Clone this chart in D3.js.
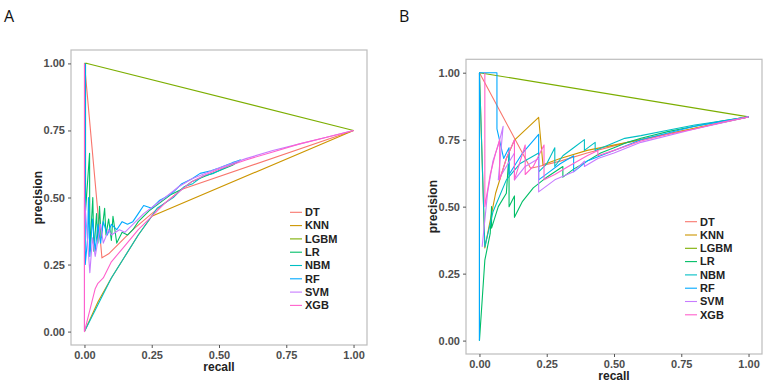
<!DOCTYPE html>
<html>
<head>
<meta charset="utf-8">
<script src="https://d3js.org/d3.v7.min.js"></script>
<style>
    body { margin: 0; background: white; }
    text { font-family: "Liberation Sans", Arial, sans-serif; }
</style>
</head>
<body>
<div id="chart"></div>
<script>
const models = ["DT", "KNN", "LGBM", "LR", "NBM", "RF", "SVM", "XGB"]
const modelColors = ["#F8766D", "#CD9600", "#7CAE00", "#00BE67", "#00BFC4", "#00A9FF", "#C77CFF", "#FF61CC"]
const tickValues = [0, 0.25, 0.5, 0.75, 1]
const panelLabels = ["A", "B"]

// panel A curves, [recall, precision]
const curveA_DT = [[0,1],[0.065,0.275],[0.09,0.29],[0.13,0.33],[0.18,0.38],[0.25,0.44],[0.3,0.48],[0.36,0.53],[1,0.75]]
const curveA_KNN = [[0,0],[0.05,0.11],[0.1,0.2],[0.15,0.28],[0.2,0.36],[0.25,0.43],[1,0.75]]
const curveA_LGBM = [[0,1],[0.01,1],[1,0.75]]
const curveA_LR = [[0.004,1],[0.004,0.45],[0.019,0.665],[0.02,0.3],[0.031,0.5],[0.035,0.3],[0.045,0.44],[0.05,0.33],[0.056,0.467],[0.062,0.35],[0.075,0.46],[0.08,0.36],[0.09,0.42],[0.1,0.34],[0.106,0.43],[0.12,0.33],[0.14,0.37],[0.16,0.36],[0.18,0.38],[0.2,0.41],[0.24,0.45],[0.28,0.48],[0.32,0.51],[0.36,0.53],[0.4,0.56],[0.45,0.58],[0.5,0.6],[0.55,0.62],[0.58,0.64]]
const curveA_NBM = [[0,0],[0.05,0.1],[0.1,0.2],[0.15,0.28],[0.2,0.36],[0.25,0.43],[0.27,0.46],[0.3,0.48],[0.33,0.5],[0.37,0.54],[0.4,0.55],[0.44,0.58],[0.48,0.59],[0.52,0.61],[0.58,0.64]]
const curveA_RF = [[0.003,1],[0.003,0.25],[0.012,0.35],[0.015,0.5],[0.02,0.28],[0.03,0.42],[0.04,0.3],[0.05,0.4],[0.06,0.33],[0.07,0.41],[0.085,0.36],[0.1,0.4],[0.12,0.38],[0.14,0.41],[0.16,0.4],[0.18,0.41],[0.2,0.44],[0.22,0.47],[0.25,0.46],[0.28,0.49],[0.3,0.5],[0.33,0.52],[0.36,0.55],[0.4,0.57],[0.43,0.59],[0.47,0.6],[0.5,0.61],[0.55,0.63],[0.58,0.64]]
const curveA_SVM = [[0,0],[0,0.5],[0.02,0.22],[0.03,0.35],[0.04,0.28],[0.06,0.4],[0.07,0.33],[0.09,0.38],[0.1,0.36],[0.13,0.38],[0.15,0.37],[0.18,0.4],[0.22,0.44],[0.26,0.47],[0.3,0.5],[0.35,0.54],[0.4,0.57],[0.45,0.59],[0.5,0.61],[0.6,0.645],[0.7,0.675],[0.8,0.7],[0.9,0.725],[1,0.75]]
const curveA_XGB = [[0,1],[0,0],[0.02,0.08],[0.04,0.16],[0.05,0.18],[0.07,0.2],[0.1,0.26],[0.15,0.32],[0.2,0.38],[0.25,0.43],[0.3,0.48],[0.35,0.52],[0.4,0.56],[0.45,0.585],[0.5,0.605],[0.6,0.64],[0.7,0.67],[0.8,0.7],[0.9,0.725],[1,0.75]]

// panel B curves
const curveB_DT = [[0,1],[0.19,0.643],[0.22,0.65],[0.3,0.67],[0.4,0.7],[0.55,0.74],[0.7,0.77],[1,0.835]]
const curveB_KNN = [[0,1],[0.02,0.346],[0.06,0.55],[0.1,0.68],[0.13,0.748],[0.22,0.833],[0.236,0.656],[0.3,0.68],[0.4,0.71],[0.55,0.74],[1,0.835]]
const curveB_LGBM = [[0,1],[1,0.835]]
const curveB_LR = [[0,0],[0.02,0.3],[0.04,0.4],[0.045,0.5],[0.045,0.42],[0.07,0.5],[0.1,0.55],[0.11,0.7],[0.11,0.5],[0.13,0.54],[0.13,0.46],[0.16,0.52],[0.2,0.57],[0.25,0.61],[0.31,0.65],[0.31,0.61],[0.35,0.64],[0.4,0.67],[0.45,0.7],[0.5,0.72],[0.55,0.74],[0.6,0.755],[0.7,0.78],[0.8,0.8],[0.9,0.82],[1,0.835]]
const curveB_NBM = [[0,0],[0,1],[0.02,0.35],[0.05,0.48],[0.1,0.6],[0.15,0.66],[0.22,0.7],[0.22,0.63],[0.25,0.66],[0.28,0.72],[0.28,0.65],[0.31,0.69],[0.35,0.72],[0.39,0.75],[0.39,0.71],[0.43,0.74],[0.43,0.71],[0.48,0.73],[0.54,0.755],[0.6,0.765],[0.7,0.785],[0.8,0.805],[0.9,0.82],[1,0.835]]
const curveB_RF = [[0,0],[0,1],[0.065,1],[0.065,0.79],[0.09,0.68],[0.11,0.72],[0.11,0.62],[0.16,0.7],[0.22,0.77],[0.22,0.6],[0.26,0.63],[0.3,0.66],[0.35,0.69],[0.35,0.63],[0.4,0.67],[0.5,0.71],[0.6,0.75],[0.8,0.8],[1,0.835]]
const curveB_SVM = [[0.01,0.35],[0.03,0.55],[0.05,0.67],[0.07,0.73],[0.088,0.8],[0.07,0.6],[0.1,0.65],[0.13,0.7],[0.13,0.6],[0.17,0.65],[0.22,0.68],[0.22,0.555],[0.28,0.6],[0.35,0.63],[0.39,0.67],[0.39,0.65],[0.44,0.68],[0.5,0.7],[0.6,0.74],[0.8,0.79],[1,0.835]]
const curveB_XGB = [[0.02,1],[0.02,0.5],[0.04,0.62],[0.06,0.7],[0.075,0.75],[0.075,0.6],[0.1,0.68],[0.13,0.75],[0.13,0.6],[0.17,0.73],[0.17,0.62],[0.2,0.65],[0.24,0.73],[0.24,0.6],[0.28,0.62],[0.33,0.65],[0.4,0.69],[0.44,0.71],[0.44,0.69],[0.5,0.71],[0.6,0.745],[0.7,0.77],[0.8,0.79],[0.9,0.815],[1,0.835]]

const curvesA = [curveA_DT, curveA_KNN, curveA_LGBM, curveA_LR, curveA_NBM, curveA_RF, curveA_SVM, curveA_XGB]
const curvesB = [curveB_DT, curveB_KNN, curveB_LGBM, curveB_LR, curveB_NBM, curveB_RF, curveB_SVM, curveB_XGB]

const width = 767, height = 387

const svg = d3.select("#chart")
    .append("svg")
    .attr("width", width)
    .attr("height", height)

const drawPanel = (curves, label, {left, right, top, bottom, labelX, legendY, titleY, ylabX}) => {
    const x = d3.scaleLinear().domain([-0.05, 1.05]).range([left, right])
    const y = d3.scaleLinear().domain([-0.05, 1.05]).range([bottom, top])
    const g = svg.append("g")

    svg.append("text")
        .attr("x", labelX)
        .attr("y", 22)
        .attr("font-size", 16)
        .attr("fill", "#111")
        .style("font-family", "'Open Sans', sans-serif")
        .text(label)

    const line = d3.line().x(d => x(d[0])).y(d => y(d[1]))

    g.selectAll("path.curve")
        .data(curves)
        .enter()
        .append("path")
            .attr("class", "curve")
            .attr("d", line)
            .attr("fill", "none")
            .attr("stroke", (d, i) => modelColors[i])
            .attr("stroke-width", 1.1)
            .attr("stroke-linejoin", "round")

    g.append("rect")
        .attr("x", left)
        .attr("y", top)
        .attr("width", right - left)
        .attr("height", bottom - top)
        .attr("fill", "none")
        .attr("stroke", "#bdbdbd")
        .attr("stroke-width", 1.2)

    const xAxis = g.append("g")
        .attr("transform", `translate(0,${bottom})`)
        .call(d3.axisBottom(x).tickValues(tickValues).tickFormat(d3.format(".2f")).tickSize(3).tickPadding(3))
    const yAxis = g.append("g")
        .attr("transform", `translate(${left},0)`)
        .call(d3.axisLeft(y).tickValues(tickValues).tickFormat(d3.format(".2f")).tickSize(3).tickPadding(3))

    for (const ax of [xAxis, yAxis]) {
        ax.select(".domain").remove()
        ax.selectAll("line").attr("stroke", "#555")
        ax.selectAll("text")
            .attr("fill", "#4d4d4d")
            .attr("font-size", 11)
            .attr("font-weight", "bold")
            .style("font-family", "'Liberation Sans', Arial, sans-serif")
    }

    g.append("text")
        .attr("x", (left + right) / 2)
        .attr("y", titleY)
        .attr("text-anchor", "middle")
        .attr("font-size", 12)
        .attr("font-weight", "bold")
        .attr("fill", "#222")
        .text("recall")

    g.append("text")
        .attr("transform", `translate(${ylabX},${(top + bottom) / 2}) rotate(-90)`)
        .attr("text-anchor", "middle")
        .attr("font-size", 12)
        .attr("font-weight", "bold")
        .attr("fill", "#222")
        .text("precision")

    const legend = g.selectAll("g.legend")
        .data(models)
        .enter()
        .append("g")
            .attr("transform", (d, i) => `translate(${right - 77},${legendY + i * 13.3})`)

    legend.append("line")
        .attr("x1", 0)
        .attr("x2", 12)
        .attr("stroke", (d, i) => modelColors[i])
        .attr("stroke-width", 1.1)

    legend.append("text")
        .attr("x", 15)
        .attr("dy", "0.35em")
        .attr("font-size", 11)
        .attr("font-weight", "bold")
        .attr("fill", "#222")
        .text(d => d)
}

drawPanel(curvesA, panelLabels[0], {left: 71, right: 367, top: 50, bottom: 345, labelX: 4, legendY: 212.3, titleY: 371, ylabX: 42})
drawPanel(curvesB, panelLabels[1], {left: 466, right: 762, top: 59.3, bottom: 354, labelX: 399, legendY: 221.7, titleY: 380, ylabX: 437})
</script>
</body>
</html>
